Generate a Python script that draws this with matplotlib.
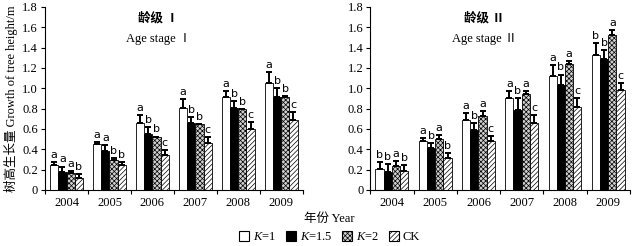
import numpy as np
import matplotlib
matplotlib.use("Agg")
from matplotlib import pyplot as plt
from matplotlib.patches import Patch

plt.rcParams['font.family'] = ['Liberation Serif', 'Noto Sans CJK SC']
plt.rcParams['mathtext.fontset'] = 'custom'
plt.rcParams['mathtext.it'] = 'Liberation Serif:italic'
plt.rcParams['mathtext.rm'] = 'Liberation Serif'
plt.rcParams['hatch.linewidth'] = 0.5

years = ['2004', '2005', '2006', '2007', '2008', '2009']
series = ['K=1', 'K=1.5', 'K=2', 'CK']

# Age stage I : means and upper error
s1_mean = {
    'K=1':   [0.245, 0.45, 0.655, 0.81, 0.91, 1.055],
    'K=1.5': [0.18, 0.386, 0.55, 0.655, 0.81, 0.916],
    'K=2':   [0.165, 0.295, 0.52, 0.645, 0.795, 0.916],
    'CK':    [0.12, 0.245, 0.345, 0.46, 0.595, 0.687],
}
s1_err = {
    'K=1':   [0.03, 0.025, 0.08, 0.08, 0.065, 0.10],
    'K=1.5': [0.05, 0.055, 0.07, 0.065, 0.067, 0.084],
    'K=2':   [0.025, 0.015, 0.005, 0.005, 0.005, 0.005],
    'CK':    [0.035, 0.025, 0.045, 0.06, 0.075, 0.083],
}
s1_letters = {
    'K=1':   ['a', 'a', 'a', 'a', 'a', 'a'],
    'K=1.5': ['a', 'a', 'b', 'b', 'b', 'b'],
    'K=2':   ['a', 'b', 'b', 'b', 'b', 'b'],
    'CK':    ['b', 'b', 'c', 'c', 'c', 'c'],
}

# Age stage II
s2_mean = {
    'K=1':   [0.21, 0.48, 0.687, 0.906, 1.125, 1.322],
    'K=1.5': [0.18, 0.41, 0.59, 0.79, 1.03, 1.283],
    'K=2':   [0.235, 0.504, 0.726, 0.942, 1.237, 1.528],
    'CK':    [0.187, 0.317, 0.48, 0.66, 0.818, 0.98],
}
s2_err = {
    'K=1':   [0.065, 0.033, 0.073, 0.066, 0.10, 0.124],
    'K=1.5': [0.075, 0.048, 0.07, 0.11, 0.105, 0.091],
    'K=2':   [0.045, 0.033, 0.05, 0.03, 0.029, 0.042],
    'CK':    [0.058, 0.049, 0.05, 0.073, 0.082, 0.074],
}
s2_letters = {
    'K=1':   ['b', 'a', 'a', 'a', 'a', 'b'],
    'K=1.5': ['b', 'b', 'b', 'b', 'b', 'b'],
    'K=2':   ['a', 'a', 'a', 'a', 'a', 'a'],
    'CK':    ['b', 'b', 'c', 'c', 'c', 'c'],
}

styles = {
    'K=1':   dict(facecolor='white', hatch=None),
    'K=1.5': dict(facecolor='black', hatch=None),
    'K=2':   dict(facecolor='#d0d0d0', hatch='xxxxxxx'),
    'CK':    dict(facecolor='white', hatch='///////'),
}
labels = {'K=1': '$K$=1', 'K=1.5': '$K$=1.5', 'K=2': '$K$=2', 'CK': 'CK'}

fig = plt.figure(figsize=(6.44, 2.46), dpi=100)
ax1 = fig.add_axes([0.070, 0.228, 0.400, 0.744])
ax2 = fig.add_axes([0.575, 0.228, 0.403, 0.744])

x = np.arange(len(years))
w = 0.19


def draw(ax, means, errs, letters, title):
    for i, s in enumerate(series):
        pos = x + (i - 1.5) * w
        st = styles[s]
        ax.bar(pos, means[s], w, facecolor=st['facecolor'], hatch=st['hatch'],
               edgecolor='black', linewidth=0.6)
        ax.errorbar(pos, means[s], yerr=[np.zeros(len(years)), errs[s]],
                    fmt='none', ecolor='black', elinewidth=1.4, capsize=2.5,
                    capthick=1.4)
        for p, m, e, l in zip(pos, means[s], errs[s], letters[s]):
            ax.text(p, m + e + 0.02, l, ha='center', va='bottom',
                    fontsize=8, family='DejaVu Sans')
    ax.set_xlim(-0.5, 5.5)
    ax.set_ylim(0, 1.8)
    ax.set_yticks(np.arange(0, 1.81, 0.2))
    ax.set_yticklabels(['0'] + ['%.1f' % v for v in np.arange(0.2, 1.81, 0.2)])
    ax.set_xticks(np.arange(-0.5, 5.6, 1))
    ax.set_xticklabels([])
    ax.set_xticks(x, minor=True)
    ax.set_xticklabels(years, minor=True)
    ax.tick_params(axis='x', which='minor', length=0, pad=5, labelsize=9)
    ax.tick_params(axis='x', which='major', length=3, direction='out')
    ax.tick_params(axis='y', length=3, direction='out', labelsize=9, pad=2)
    for sp in ['top', 'right']:
        ax.spines[sp].set_visible(False)
    ax.text(0.44, 0.97, title[0], transform=ax.transAxes, ha='center',
            va='top', fontsize=9, fontweight='bold')
    ax.text(0.44, 0.86, title[1], transform=ax.transAxes, ha='center',
            va='top', fontsize=9)


draw(ax1, s1_mean, s1_err, s1_letters, ('龄级 Ⅰ', 'Age stage Ⅰ'))
draw(ax2, s2_mean, s2_err, s2_letters, ('龄级 Ⅱ', 'Age stage Ⅱ'))

ax1.set_ylabel('树高生长量 Growth of tree height/m', fontsize=9, labelpad=3)
fig.text(0.512, 0.11, '年份 Year', ha='center', va='center', fontsize=9)

handles = [Patch(facecolor=styles[s]['facecolor'], hatch=styles[s]['hatch'],
                 edgecolor='black', linewidth=0.8, label=labels[s])
           for s in series]
fig.legend(handles=handles, loc='center', bbox_to_anchor=(0.512, 0.035),
           ncol=4, frameon=False, fontsize=9, handlelength=0.8,
           handleheight=0.8, handletextpad=0.3, columnspacing=0.8,
           borderpad=0)

fig.savefig('out.png', dpi=100)
